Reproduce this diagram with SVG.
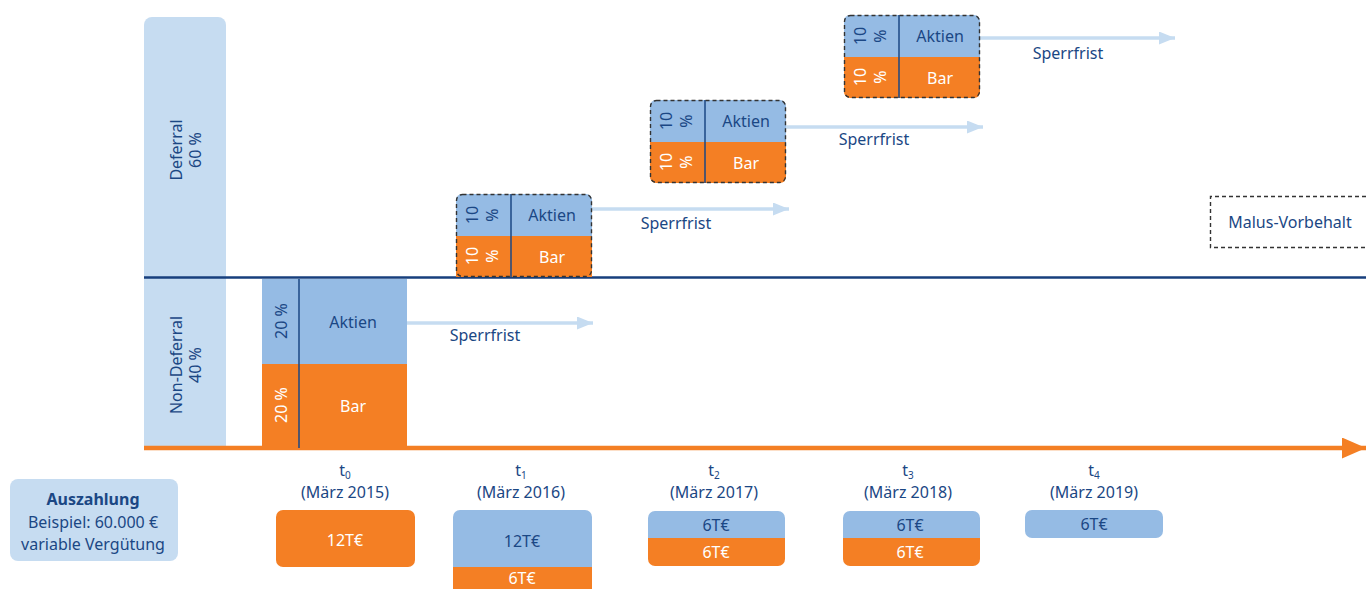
<svg xmlns="http://www.w3.org/2000/svg" width="1366" height="589" viewBox="0 0 1366 589">
<style>
text{font-family:"Noto Sans","Open Sans",sans-serif;font-size:16px;text-anchor:middle;dominant-baseline:central}
.n{fill:#1b4784}
.w{fill:#ffffff}
.lb{fill:#c6dcf1}
.mb{fill:#95bbe4}
.or{fill:#f47f24}
.dash{fill:none;stroke:#333333;stroke-width:1.4;stroke-dasharray:4 3}
.div{stroke:#1b4784;stroke-width:1.5}
.sp{stroke:#c6dcf1;stroke-width:3.5;fill:none}
</style>
<defs>
<marker id="ah" viewBox="0 0 10 10" refX="10" refY="5" markerWidth="16" markerHeight="13" markerUnits="userSpaceOnUse" orient="auto" preserveAspectRatio="none"><path d="M0 0L10 5L0 10z" fill="#c6dcf1"/></marker>
<marker id="oh" viewBox="0 0 10 10" refX="10" refY="5" markerWidth="24" markerHeight="21" markerUnits="userSpaceOnUse" orient="auto" preserveAspectRatio="none"><path d="M0 0L10 5L0 10z" fill="#f47f24"/></marker>
</defs>

<g id="panel">
<path class="lb" d="M144 450V25a8 8 0 0 1 8-8h66a8 8 0 0 1 8 8V450z"/>
<text class="n" transform="translate(185 150) rotate(-90)"><tspan x="0" dy="-9">Deferral</tspan><tspan x="0" dy="19">60 %</tspan></text>
<text class="n" transform="translate(185 365) rotate(-90)"><tspan x="0" dy="-9">Non-Deferral</tspan><tspan x="0" dy="19">40 %</tspan></text>
</g>

<g id="connectors">
<line x1="144" y1="277.5" x2="1366" y2="277.5" stroke="#173f7d" stroke-width="2.5"/>
<line x1="144" y1="448" x2="1366" y2="448" stroke="#f47f24" stroke-width="4.5" marker-end="url(#oh)"/>
<line class="sp" x1="407" y1="323" x2="593" y2="323" marker-end="url(#ah)"/>
<line class="sp" x1="592" y1="209" x2="789" y2="209" marker-end="url(#ah)"/>
<line class="sp" x1="786" y1="127" x2="983" y2="127" marker-end="url(#ah)"/>
<line class="sp" x1="980" y1="38" x2="1175" y2="38" marker-end="url(#ah)"/>
<text class="n" x="485" y="335">Sperrfrist</text>
<text class="n" x="676" y="223">Sperrfrist</text>
<text class="n" x="874" y="139">Sperrfrist</text>
<text class="n" x="1068" y="53">Sperrfrist</text>
</g>

<g id="nondeferral">
<rect class="mb" x="262" y="279" width="145" height="85"/>
<rect class="or" x="262" y="364" width="145" height="84"/>
<line class="div" x1="299" y1="279" x2="299" y2="448"/>
<text class="n" transform="translate(281 321) rotate(-90)">20 %</text>
<text class="w" transform="translate(281 405) rotate(-90)">20 %</text>
<text class="n" x="353" y="322">Aktien</text>
<text class="w" x="353" y="406">Bar</text>
</g>

<g id="deferral1">
<path class="mb" d="M456 236V200a6 6 0 0 1 6-6h124a6 6 0 0 1 6 6V236z"/>
<path class="or" d="M456 236H592V277H456z"/>
<line class="div" x1="511" y1="194" x2="511" y2="277"/>
<rect class="dash" x="456.5" y="194.5" width="135" height="82" rx="6"/>
<text class="n" transform="translate(482 215) rotate(-90)"><tspan x="0" dy="-10">10</tspan><tspan x="0" dy="20">%</tspan></text>
<text class="w" transform="translate(482 256) rotate(-90)"><tspan x="0" dy="-10">10</tspan><tspan x="0" dy="20">%</tspan></text>
<text class="n" x="552" y="215">Aktien</text>
<text class="w" x="552" y="257">Bar</text>
</g>

<g id="deferral2">
<path class="mb" d="M650 142V106a6 6 0 0 1 6-6h124a6 6 0 0 1 6 6V142z"/>
<path class="or" d="M650 142H786V177a6 6 0 0 1-6 6H656a6 6 0 0 1-6-6z"/>
<line class="div" x1="705" y1="100" x2="705" y2="183"/>
<rect class="dash" x="650.5" y="100.5" width="135" height="82" rx="6"/>
<text class="n" transform="translate(676 121) rotate(-90)"><tspan x="0" dy="-10">10</tspan><tspan x="0" dy="20">%</tspan></text>
<text class="w" transform="translate(676 162) rotate(-90)"><tspan x="0" dy="-10">10</tspan><tspan x="0" dy="20">%</tspan></text>
<text class="n" x="746" y="121">Aktien</text>
<text class="w" x="746" y="163">Bar</text>
</g>

<g id="deferral3">
<path class="mb" d="M844 57V21a6 6 0 0 1 6-6h124a6 6 0 0 1 6 6V57z"/>
<path class="or" d="M844 57H980V92a6 6 0 0 1-6 6H850a6 6 0 0 1-6-6z"/>
<line class="div" x1="899" y1="15" x2="899" y2="98"/>
<rect class="dash" x="844.5" y="15.5" width="135" height="82" rx="6"/>
<text class="n" transform="translate(870 36) rotate(-90)"><tspan x="0" dy="-10">10</tspan><tspan x="0" dy="20">%</tspan></text>
<text class="w" transform="translate(870 77) rotate(-90)"><tspan x="0" dy="-10">10</tspan><tspan x="0" dy="20">%</tspan></text>
<text class="n" x="940" y="36">Aktien</text>
<text class="w" x="940" y="78">Bar</text>
</g>

<g id="malus">
<path class="dash" d="M1366 196.5H1210.5V247.5H1366"/>
<text class="n" x="1290" y="222">Malus-Vorbehalt</text>
</g>

<g id="auszahlung">
<rect class="lb" x="10" y="479" width="168" height="82" rx="8"/>
<text class="n" x="93" y="499" font-weight="bold">Auszahlung</text>
<text class="n" x="93" y="522">Beispiel: 60.000 €</text>
<text class="n" x="93" y="544">variable Vergütung</text>
</g>

<g id="t0">
<text class="n" x="345" y="470">t<tspan font-size="10" dy="5">0</tspan></text>
<text class="n" x="345" y="492">(März 2015)</text>
<rect class="or" x="276" y="510" width="139" height="57" rx="7"/>
<text class="w" x="345" y="540">12T€</text>
</g>

<g id="t1">
<text class="n" x="521" y="470">t<tspan font-size="10" dy="5">1</tspan></text>
<text class="n" x="521" y="492">(März 2016)</text>
<path class="mb" d="M453 567V517a7 7 0 0 1 7-7h125a7 7 0 0 1 7 7V567z"/>
<rect class="or" x="453" y="567" width="139" height="22"/>
<text class="n" x="522" y="541">12T€</text>
<text class="w" x="522" y="578" font-size="15">6T€</text>
</g>

<g id="t2">
<text class="n" x="714" y="470">t<tspan font-size="10" dy="5">2</tspan></text>
<text class="n" x="714" y="492">(März 2017)</text>
<path class="mb" d="M648 538V518a7 7 0 0 1 7-7h123a7 7 0 0 1 7 7V538z"/>
<path class="or" d="M648 538H785V559a7 7 0 0 1-7 7H655a7 7 0 0 1-7-7z"/>
<text class="n" x="716" y="525">6T€</text>
<text class="w" x="716" y="552">6T€</text>
</g>

<g id="t3">
<text class="n" x="908" y="470">t<tspan font-size="10" dy="5">3</tspan></text>
<text class="n" x="908" y="492">(März 2018)</text>
<path class="mb" d="M843 538V518a7 7 0 0 1 7-7h123a7 7 0 0 1 7 7V538z"/>
<path class="or" d="M843 538H980V559a7 7 0 0 1-7 7H850a7 7 0 0 1-7-7z"/>
<text class="n" x="910" y="525">6T€</text>
<text class="w" x="910" y="552">6T€</text>
</g>

<g id="t4">
<text class="n" x="1094" y="470">t<tspan font-size="10" dy="5">4</tspan></text>
<text class="n" x="1094" y="492">(März 2019)</text>
<rect class="mb" x="1025" y="510" width="138" height="28" rx="7"/>
<text class="n" x="1094" y="524">6T€</text>
</g>
</svg>
